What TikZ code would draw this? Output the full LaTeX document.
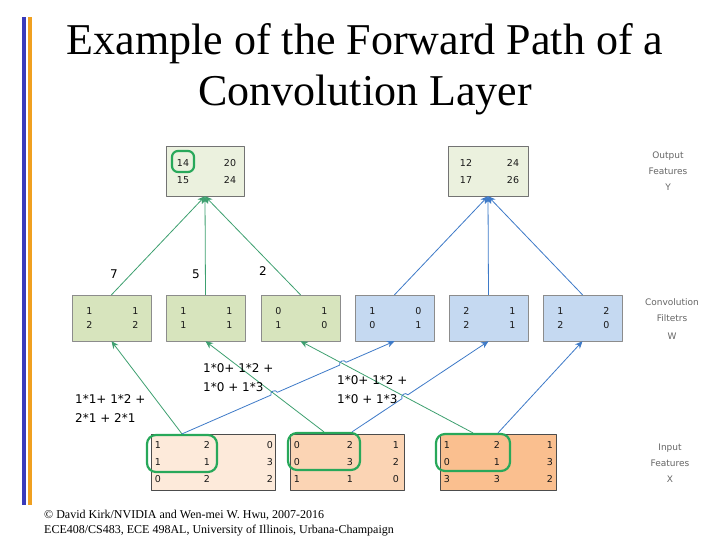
\documentclass[tikz,border=0pt]{standalone}
\usepackage{fontspec}
\setmainfont{Liberation Serif}
\newfontfamily\numfont{DejaVu Sans}
\usetikzlibrary{calc,arrows.meta,intersections}

\definecolor{barblue}{RGB}{58,58,186}
\definecolor{barorange}{RGB}{240,160,32}
\definecolor{outfill}{RGB}{235,241,222}
\definecolor{wgfill}{RGB}{215,228,189}
\definecolor{wbfill}{RGB}{197,217,241}
\definecolor{xafill}{RGB}{253,234,218}
\definecolor{xbfill}{RGB}{251,212,180}
\definecolor{xcfill}{RGB}{250,191,143}
\definecolor{hlgreen}{RGB}{40,168,90}
\definecolor{lngreen}{RGB}{62,160,112}
\definecolor{lnblue}{RGB}{62,122,200}

\begin{document}
\begin{tikzpicture}[x=1pt, y=-1pt, >={Stealth[length=7.5pt,width=6.5pt]}, line join=round,
  outbox/.style={draw=black!55, fill=outfill, minimum width=78pt, minimum height=50pt, inner sep=0pt},
  filtbox/.style={draw=black!45, fill=#1, minimum width=79pt, minimum height=46pt, inner sep=0pt},
  inbox/.style={draw=black!70, fill=#1, minimum height=56pt, inner sep=0pt},
  hilite/.style={draw=hlgreen, line width=2.2pt, rounded corners=9pt, inner sep=0pt},
  numtxt/.style={font=\numfont\fontsize{9.5}{10}\selectfont, text=black!90, inner sep=0pt},
  exprtxt/.style={font=\numfont\fontsize{12}{19}\selectfont, align=left, anchor=west, inner sep=0pt},
  sidelbl/.style={font=\numfont\fontsize{9}{16}\selectfont, text=black!60, align=center, inner sep=0pt},
  gline/.style={draw=lngreen, line width=0.8pt, ->},
  bline/.style={draw=lnblue, line width=0.8pt, ->}]
  \useasboundingbox[fill=white] (0,0) rectangle (720,540);

  % Thanh dọc bên trái
  \fill[barblue] (22,17) rectangle (26,505);
  \fill[barorange] (28,17) rectangle (32,505);

  % Tiêu đề
  \node[font=\fontsize{44}{50}\selectfont, anchor=base] (title1) at (365,55) {Example of the Forward Path of a};
  \node[font=\fontsize{44}{50}\selectfont, anchor=base] (title2) at (365,106) {Convolution Layer};

  % Đặc trưng đầu ra Y
  \node[outbox] (y1) at (205,171) {};
  \node[outbox, minimum width=80pt] (y2) at (488,171) {};
  \foreach \a/\b/\c/\d/\n/\cx in {14/20/15/24/y1/205, 12/24/17/26/y2/488} {
    \node[numtxt] (\n-11) at (\cx-22,163) {\a};
    \node[numtxt] (\n-12) at (\cx+25,163) {\b};
    \node[numtxt] (\n-21) at (\cx-22,180) {\c};
    \node[numtxt] (\n-22) at (\cx+25,180) {\d};
  }
  \node[hilite, minimum width=22pt, minimum height=21pt, rounded corners=6pt] (hl0) at (183,161.5) {};

  % Bộ lọc W
  \foreach \n/\cx/\a/\b/\c/\d/\f in {w1/111.5/1/1/2/2/wgfill, w2/205.5/1/1/1/1/wgfill,
      w3/300.5/0/1/1/0/wgfill, w4/394.5/1/0/0/1/wbfill, w5/488.5/2/1/2/1/wbfill, w6/582.5/1/2/2/0/wbfill} {
    \node[filtbox=\f] (\n) at (\cx,318) {};
    \node[numtxt] (\n-11) at (\cx-22,311) {\a};
    \node[numtxt] (\n-12) at (\cx+24,311) {\b};
    \node[numtxt] (\n-21) at (\cx-22,325) {\c};
    \node[numtxt] (\n-22) at (\cx+24,325) {\d};
  }

  % Đặc trưng đầu vào X
  \node[inbox=xafill, minimum width=124pt] (x1) at (213,462) {};
  \node[inbox=xbfill, minimum width=114pt] (x2) at (347,462) {};
  \node[inbox=xcfill, minimum width=116pt] (x3) at (498,462) {};
  \foreach \a/\b/\c [count=\r] in {1/2/0, 1/1/3, 0/2/2} {
    \node[numtxt] (x1-\r1) at (158,428+17*\r) {\a};
    \node[numtxt] (x1-\r2) at (207,428+17*\r) {\b};
    \node[numtxt] (x1-\r3) at (270,428+17*\r) {\c};
  }
  \foreach \a/\b/\c [count=\r] in {0/2/1, 0/3/2, 1/1/0} {
    \node[numtxt] (x2-\r1) at (297,428+17*\r) {\a};
    \node[numtxt] (x2-\r2) at (350,428+17*\r) {\b};
    \node[numtxt] (x2-\r3) at (396,428+17*\r) {\c};
  }
  \foreach \a/\b/\c [count=\r] in {1/2/1, 0/1/3, 3/3/2} {
    \node[numtxt] (x3-\r1) at (447,428+17*\r) {\a};
    \node[numtxt] (x3-\r2) at (497,428+17*\r) {\b};
    \node[numtxt] (x3-\r3) at (550,428+17*\r) {\c};
  }
  \node[hilite, minimum width=70pt, minimum height=37pt] (hl1) at (182,453.5) {};
  \node[hilite, minimum width=72pt, minimum height=37pt] (hl2) at (324,451.5) {};
  \node[hilite, minimum width=74pt, minimum height=37pt] (hl3) at (473,452.5) {};

  % Nhãn bên phải
  \node[sidelbl] (lblY) at (668,171) {Output\\Features\\Y};
  \node[sidelbl] (lblW) at (672,319) {Convolution\\Filtetrs\\[2pt]W};
  \node[sidelbl] (lblX) at (670,463) {Input\\Features\\X};

  % Từ bộ lọc lên đầu ra
  \foreach \w in {w1,w2,w3} \draw[gline] (\w.north) -- (y1.south);
  \foreach \w in {w4,w5,w6} \draw[bline] (\w.north) -- (y2.south);
  \node[exprtxt] (lbl7) at (110,274) {7};
  \node[exprtxt] (lbl5) at (192,274) {5};
  \node[exprtxt] (lbl2) at (259,271) {2};

  % Từ đầu vào lên bộ lọc
  \coordinate (x2b) at ($(hl2.north)+(28,0)$);
  \coordinate (x3b) at ($(hl3.north)+(25,0)$);
  \draw[gline] (hl1.north) -- (w1.south);
  \draw[gline, name path=g2] (hl2.north) -- (w2.south);
  \draw[gline, name path=g3] (hl3.north) -- (w3.south);
  \path[name path=b1] (hl1.north) -- (w4.south);
  \path[name path=b2] (x2b) -- (w5.south);
  \path[name intersections={of=g2 and b1, by=c1}];
  \path[name intersections={of=g3 and b1, by=c2}];
  \path[name intersections={of=g3 and b2, by=c3}];
  \draw[bline] (hl1.north) -- ($(c1)!3.5pt!(hl1.north)$) to[bend left=90, looseness=1.4] ($(c1)!3.5pt!(w4.south)$)
    -- ($(c2)!3.5pt!(hl1.north)$) to[bend left=90, looseness=1.4] ($(c2)!3.5pt!(w4.south)$) -- (w4.south);
  \draw[bline] (x2b) -- ($(c3)!3.5pt!(x2b)$) to[bend left=90, looseness=1.4] ($(c3)!3.5pt!(w5.south)$) -- (w5.south);
  \draw[bline] (x3b) -- (w6.south);

  % Phép tính
  \node[exprtxt] (calc1) at (203,378) {1*0+ 1*2 +\\1*0 + 1*3};
  \node[exprtxt] (calc2) at (337,390) {1*0+ 1*2 +\\1*0 + 1*3};
  \node[exprtxt] (calc3) at (75,409) {1*1+ 1*2 +\\2*1 + 2*1};

  % Chân trang
  \node[font=\fontsize{12}{15}\selectfont, anchor=base west, inner sep=0pt] (foot1) at (44,518) {© David Kirk/NVIDIA and Wen-mei W. Hwu, 2007-2016};
  \node[font=\fontsize{12}{15}\selectfont, anchor=base west, inner sep=0pt] (foot2) at (44,533) {ECE408/CS483, ECE 498AL, University of Illinois, Urbana-Champaign};
\end{tikzpicture}
\end{document}
